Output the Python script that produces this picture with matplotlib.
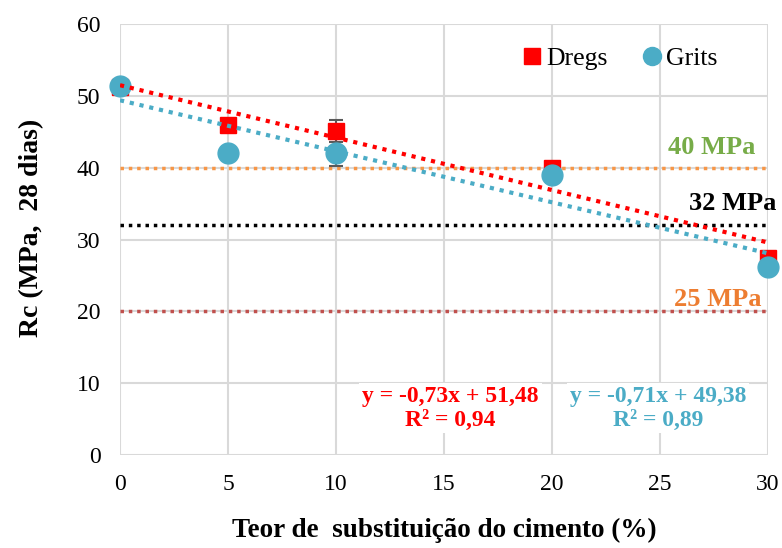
import numpy as np
import matplotlib
matplotlib.use("Agg")
import matplotlib.pyplot as plt
from matplotlib.lines import Line2D

plt.rcParams['font.family'] = ['Liberation Serif', 'DejaVu Serif']

# Cement replacement content (%) and 28-day compressive strength (MPa)
teor = [0, 5, 10, 20, 30]
dregs = [51.2, 46.0, 45.1, 40.0, 27.4]
grits = [51.3, 42.1, 42.1, 39.0, 26.2]
dregs_err = [0, 0, 1.5, 0, 0]
grits_err = [0, 0, 1.9, 0, 0]

# Linear trend coefficients (slope, intercept, R²)
dregs_fit = (-0.73, 51.48, 0.94)
grits_fit = (-0.71, 49.38, 0.89)

# Reference strength levels
ref_levels = [40, 32, 20]
ref_colors = ['#F79646', '#000000', '#C0504D']
ref_labels = ['40 MPa', '32 MPa', '25 MPa']
ref_label_colors = ['#77AC48', '#000000', '#ED7D31']
ref_label_x = [29.4, 30.4, 29.7]
ref_label_y = [42.8, 35.0, 21.6]

red = '#FF0000'
blue = '#4BACC6'

fig = plt.figure(figsize=(7.82, 5.48), dpi=100)
ax = fig.add_axes([120 / 782, 1 - 455 / 548, 648 / 782, 431 / 548])

ax.set_xlim(0, 30)
ax.set_ylim(0, 60)
ax.set_xticks(range(0, 31, 5))
ax.set_yticks(range(0, 61, 10))
ax.grid(True, color='#D9D9D9', linewidth=1.5)
ax.set_axisbelow(True)
for s in ax.spines.values():
    s.set_visible(False)
ax.tick_params(length=0, labelsize=17, colors='#000000')
ax.tick_params(axis='x', pad=14)
ax.tick_params(axis='y', pad=14)

# Reference lines
for lvl, c in zip(ref_levels, ref_colors):
    ax.axhline(lvl, color=c, linestyle=(0, (1, 1.4)), linewidth=2.5, zorder=2)

for txt, c, x, y in zip(ref_labels, ref_label_colors, ref_label_x, ref_label_y):
    ax.text(x, y, txt, color=c, fontsize=19, fontweight='bold',
            ha='right', va='center', zorder=5, clip_on=False)

# Data points with error bars
ax.errorbar(teor, dregs, yerr=dregs_err, fmt='s', color=red, ms=12,
            ecolor='#595959', elinewidth=1.5, capsize=5, capthick=1.5,
            zorder=3, clip_on=False)
ax.errorbar(teor, grits, yerr=grits_err, fmt='o', color=blue, ms=15,
            ecolor='#595959', elinewidth=1.5, capsize=5, capthick=1.5,
            zorder=3, clip_on=False)

# Linear trendlines
xs = np.array([0, 30])
ax.plot(xs, dregs_fit[0] * xs + dregs_fit[1], color=red,
        linestyle=(0, (1, 1.4)), linewidth=3, zorder=4)
ax.plot(xs, grits_fit[0] * xs + grits_fit[1], color=blue,
        linestyle=(0, (1, 1.4)), linewidth=3, zorder=4)

def fmt(v):
    return f'{v:.2f}'.replace('.', ',')

ax.text(15.3, 6.5, f'y = {fmt(dregs_fit[0])}x + {fmt(dregs_fit[1])}\nR² = {fmt(dregs_fit[2])}',
        color=red, fontsize=17, fontweight='bold', ha='center', va='center',
        linespacing=1.15, zorder=5,
        bbox=dict(facecolor='white', edgecolor='none', pad=2))
ax.text(24.9, 6.5, f'y = {fmt(grits_fit[0])}x + {fmt(grits_fit[1])}\nR² = {fmt(grits_fit[2])}',
        color=blue, fontsize=17, fontweight='bold', ha='center', va='center',
        linespacing=1.15, zorder=5,
        bbox=dict(facecolor='white', edgecolor='none', pad=2))

ax.set_xlabel('Teor de  substituição do cimento (%)', fontsize=19.5,
              fontweight='bold')
ax.xaxis.set_label_coords(0.5, (455 - 530) / 431)
ax.xaxis.label.set_va('center')
ax.set_ylabel('Rc (MPa,  28 dias)', fontsize=20, fontweight='bold')
ax.yaxis.set_label_coords((32 - 120) / 648, (455 - 228) / 431)
ax.yaxis.label.set_va('center')

handles = [
    Line2D([], [], marker='s', color=red, linestyle='none', ms=12),
    Line2D([], [], marker='o', color=blue, linestyle='none', ms=13),
]
ax.legend(handles, ['Dregs', 'Grits'], loc='upper right',
          bbox_to_anchor=(0.958, 1.0), ncol=2, frameon=False, fontsize=18.5,
          handletextpad=0.0, columnspacing=1.2, handlelength=1.1)

fig.savefig('out.png', dpi=100)
